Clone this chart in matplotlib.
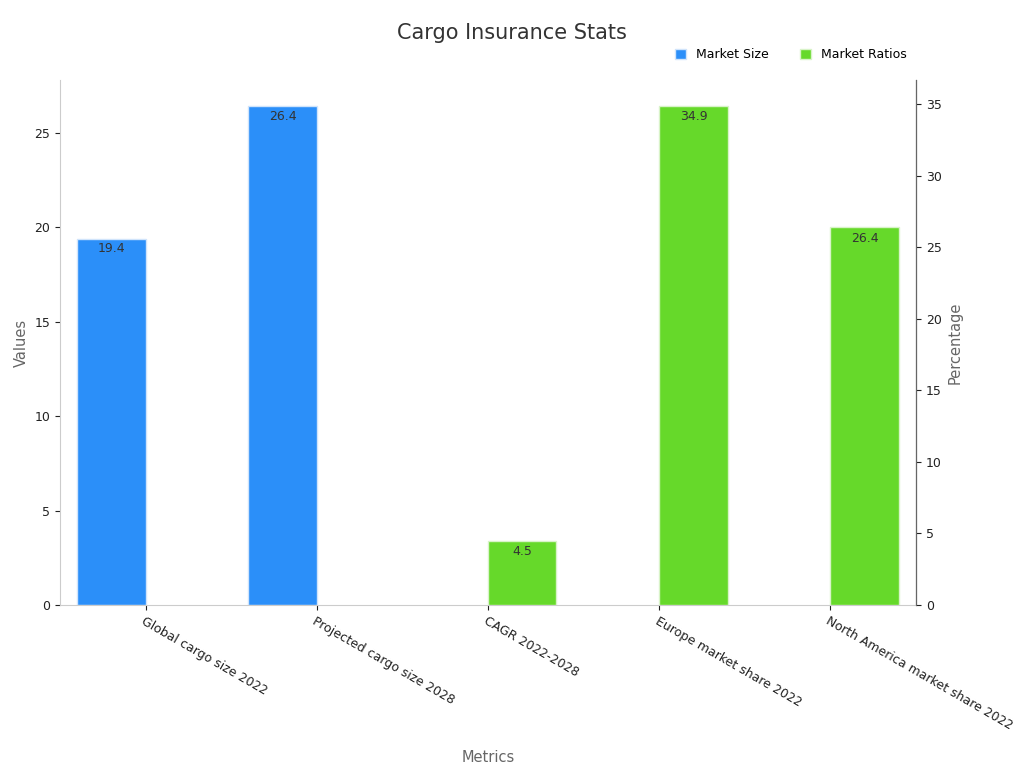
import matplotlib
matplotlib.use("Agg")
import matplotlib.pyplot as plt
import numpy as np

categories = ["Global cargo size 2022", "Projected cargo size 2028", "CAGR 2022-2028",
              "Europe market share 2022", "North America market share 2022"]
size_idx = [0, 1]
size_vals = [19.4, 26.4]
ratio_idx = [2, 3, 4]
ratio_vals = [4.5, 34.9, 26.4]

fig = plt.figure(figsize=(10.24, 7.68), dpi=100)
ax = fig.add_axes([60/1024, 1-605/768, 856/1024, 525/768])
ax2 = ax.twinx()
blue, green = "#2b8ff9", "#66d92a"
w = 0.4
x = np.arange(len(categories))
b1 = ax.bar(np.array(size_idx) - w/2, size_vals, w, color=blue, edgecolor="#d0e4fb", linewidth=1, label="Market Size")
b2 = ax2.bar(np.array(ratio_idx) + w/2, ratio_vals, w, color=green, edgecolor="#d8f3c8", linewidth=1, label="Market Ratios")
for rect, v in zip(b1, size_vals):
    ax.text(rect.get_x()+rect.get_width()/2, v - 0.2, f"{v}", ha="center", va="top", fontsize=9, color="#333333")
for rect, v in zip(b2, ratio_vals):
    ax2.text(rect.get_x()+rect.get_width()/2, v - 0.3, f"{v}", ha="center", va="top", fontsize=9, color="#333333")
ax.set_xlim(-0.5, 4.5)
ax.set_ylim(0, 27.8)
ax2.set_ylim(0, 36.7)
ax.set_xticks(x)
ax.set_xticklabels(categories, rotation=-30, ha="left", rotation_mode="anchor", fontsize=9, color="#222222")
for a in (ax, ax2):
    a.tick_params(labelsize=9, colors="#222222")
    a.spines["top"].set_visible(False)
ax.spines["left"].set_color("#cccccc")
ax.spines["bottom"].set_color("#cccccc")
ax2.spines["left"].set_visible(False)
ax2.spines["bottom"].set_visible(False)
ax2.spines["right"].set_color("#666666")
ax.set_ylabel("Values", fontsize=10.5, color="#666666")
ax2.set_ylabel("Percentage", fontsize=10.5, color="#666666")
ax.set_xlabel("Metrics", fontsize=10.5, color="#666666")
ax.xaxis.set_label_coords(0.5, -(750-605)/525)
fig.text(0.5, 1-33/768, "Cargo Insurance Stats", ha="center", va="center", fontsize=15, color="#333333")
fig.legend(handles=[b1, b2], loc="center right", bbox_to_anchor=(918/1024, 1-55/768), ncol=2,
           frameon=False, fontsize=9, handlelength=0.9, handleheight=0.9, columnspacing=2.5)
fig.savefig("out.png", dpi=100)
